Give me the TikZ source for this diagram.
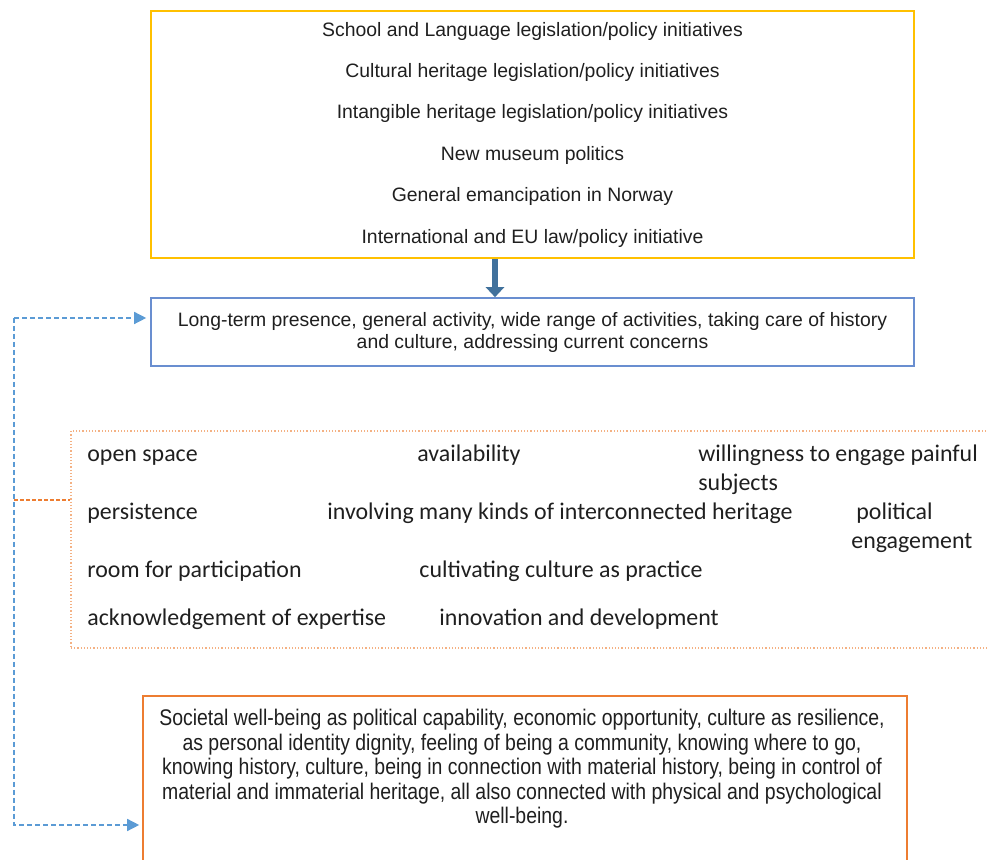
\documentclass[tikz,border=0pt]{standalone}
\usepackage{fontspec}
\setmainfont{Liberation Sans}
\newfontfamily\calibrifont{Carlito}
\newfontfamily\narrowfont[FakeStretch=0.86]{Liberation Sans}
\usepackage{xcolor}
\usepackage{tikz}
\usetikzlibrary{arrows.meta, positioning, calc}
\definecolor{policygold}{HTML}{FFC000}
\definecolor{activityblue}{HTML}{4472C4}
\definecolor{wellorange}{HTML}{ED7D31}
\definecolor{factororange}{HTML}{F4B183}
\definecolor{loopblue}{HTML}{5B9BD5}
\definecolor{steelarrow}{HTML}{41719C}

\begin{document}
\begin{tikzpicture}[x=0.5pt, y=-0.5pt,
    every node/.style={inner sep=0pt, text=black!88},
    policybox/.style={draw=policygold, line width=0.8pt, minimum width=381.5pt, minimum height=123.5pt,
      align=center, font=\fontsize{9.7}{20.7}\selectfont},
    activitybox/.style={draw=activityblue!80, line width=0.8pt, minimum width=381.5pt, minimum height=34pt,
      align=center, font=\fontsize{9.7}{11}\selectfont},
    factorbox/.style={draw=factororange, densely dotted, line width=0.6pt, minimum width=514.5pt, minimum height=108.5pt},
    factor/.style={anchor=base west, font=\calibrifont\fontsize{11.95}{14}\selectfont},
    wellbox/.style={draw=wellorange, line width=0.8pt, minimum width=382pt, minimum height=129pt},
    welltext/.style={align=center, font=\narrowfont\fontsize{11.3}{12.25}\selectfont}]
  \useasboundingbox (0,0) rectangle (987,860);
  \clip (0,0) rectangle (987,860);
  % --- policy background ---------------------------------------------
  \node[policybox] (policy) at (532.5, 134.5) {\rule{0pt}{3pt}School and Language legislation/policy initiatives\\
    Cultural heritage legislation/policy initiatives\\
    Intangible heritage legislation/policy initiatives\\
    New museum politics\\
    General emancipation in Norway\\
    International and EU law/policy initiative};
  % --- activity of the institution ----------------------------------
  \node[activitybox] (activity) at (532.5, 332) {Long-term presence, general activity, wide range of activities, taking care of history\\
    and culture, addressing current concerns};
  \draw[-{Triangle[length=5pt, width=9pt]}, line width=3.2pt, steelarrow]
    ($(policy.south)+(-37.5,0)$) -- ($(activity.north)+(-37.5,0)$);
  % --- qualities (dotted box) ----------------------------------------
  \node[factorbox] (factors) at (585.5, 539.5) {};
  \node[factor] (open)     at (87, 462)  {open space};
  \node[factor] (avail)    at (417, 462) {availability};
  \node[factor] (willing)  at (698, 462) {willingness to engage painful};
  \node[factor] (subjects) at (698, 491) {subjects};
  \node[factor] (persist)  at (87, 520)  {persistence};
  \node[factor] (involve)  at (327, 520) {involving many kinds of interconnected heritage};
  \node[factor] (polit)    at (856, 520) {political};
  \node[factor] (engage)   at (851, 549) {engagement};
  \node[factor] (room)     at (87, 578)  {room for participation};
  \node[factor] (cultiv)   at (419, 578) {cultivating culture as practice};
  \node[factor] (acknow)   at (87, 626)  {acknowledgement of expertise};
  \node[factor] (innov)    at (439, 626) {innovation and development};
  % --- societal well-being -------------------------------------------
  \node[wellbox] (wellbeing) at (525, 825) {};
  \node[welltext] (welltxt) at (522, 769) {Societal well-being as political capability, economic opportunity, culture as resilience,\\
    as personal identity dignity, feeling of being a community, knowing where to go,\\
    knowing history, culture, being in connection with material history, being in control of\\
    material and immaterial heritage, all also connected with physical and psychological\\
    well-being.};
  % --- feedback lines ------------------------------------------------
  \coordinate (looptop) at (14, 318);
  \coordinate (loopbot) at (14, 825);
  \coordinate (tap) at (14, 500);
  \draw[wellorange, dashed, dash pattern=on 2pt off 1pt, line width=0.6pt] (tap) -- (tap -| factors.west);
  \draw[loopblue, dashed, dash pattern=on 2.5pt off 1.5pt, line width=0.7pt, -{Triangle[length=6pt, width=6pt]}, shorten >=2pt]
    (looptop) -- (looptop -| activity.west);
  \draw[loopblue, dashed, dash pattern=on 2.5pt off 1.5pt, line width=0.7pt, -{Triangle[length=6pt, width=6pt]}, shorten >=1.5pt]
    (looptop) -- (loopbot) -- (wellbeing.west);
\end{tikzpicture}
\end{document}
